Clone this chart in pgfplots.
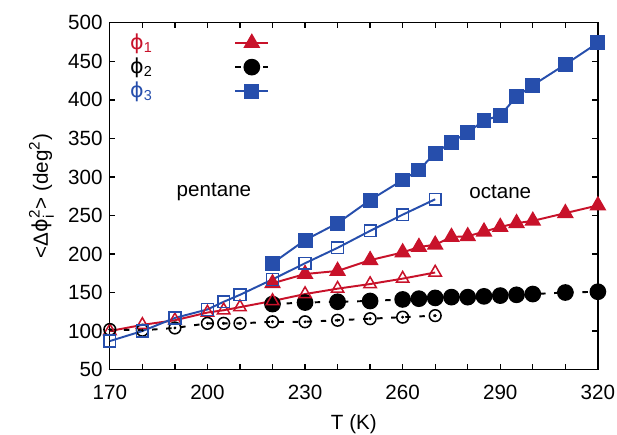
\documentclass[border=0pt]{standalone}
\usepackage{fontspec}
\setmainfont{Liberation Sans}
\newfontfamily\sym{DejaVu Sans}
\usepackage{pgfplots}
\pgfplotsset{compat=1.18}
\usepackage{pgfplotstable}

\definecolor{phired}{RGB}{200,18,42}
\definecolor{phiblue}{RGB}{38,78,172}

\newcommand{\ph}{{\sym ϕ}}

% octane: T, phi1, phi2, phi3
\pgfplotstableread{
T    p1   p2   p3
220  162  135  188
230  174  137  218
240  178  138  240
250  192  139  270
260  202  141  296
265  209  142  309
270  212  143  331
275  222  144  345
280  223  144  358
285  229  145  373
290  235  146  380
295  240  147  404
300  243  148  419
310  253  150  446
320  263  151  474
}\octane

% pentane: T, phi1, phi2, phi3
\pgfplotstableread{
T    p1   p2   p3
170  100  102   87
180  108  101  100
190  114  104  117
200  124  110  128
205  127  110  138
210  131  110  147
220  139  112  167
230  148  112  188
240  155  114  208
250  161  116  230
260  168  118  251
270  176  120  271
}\pentane

\begin{document}
\fontsize{9.5}{11}\selectfont
\begin{tikzpicture}
\begin{axis}[
  name=ax,
  scale only axis,
  width=7.91cm, height=5.62cm,
  xmin=170, xmax=320, ymin=50, ymax=500,
  xtick={170,200,...,320},
  minor x tick num=2,
  ytick={50,100,...,500},
  tick align=inside,
  major tick length=0.09cm, minor tick length=0.09cm,
  every tick/.style={line width=0.6pt, black},
  axis line style={line width=0.6pt},
  /pgf/number format/assume math mode=true,
  ticklabel style={font=\fontsize{9.5}{11}\selectfont},
  xticklabel style={yshift=-4pt},
  label style={font=\fontsize{9.5}{11}\selectfont},
  xlabel={T (K)},
  ylabel={<Δ\ph$_{\hbox{\scriptsize i}}^{\hbox{\scriptsize 2}}$> (deg$^{\hbox{\scriptsize 2}}$)},
  legend plot pos=right,
  legend cell align=left,
  legend style={draw=none, fill=none, at={(0,1)}, anchor=north west,
    xshift=0.2cm, yshift=-0.08cm, row sep=1.5pt,
    nodes={inner sep=0.5pt},
    /tikz/every odd column/.append style={column sep=1.3cm}},
  legend image code/.code={%
    \draw[mark repeat=2,mark phase=2,#1] plot coordinates {(0cm,0cm)(0.27cm,0cm)(0.54cm,0cm)};},
  clip=false,
]
% octane (filled marks)
\addplot[phired, line width=0.9pt, mark=triangle*, mark size=3.6pt]
  table[x=T,y=p1]{\octane};
\addplot[black, line width=0.9pt, dash pattern=on 2.5pt off 4pt,
  mark=*, mark size=3.4pt, mark options={solid}]
  table[x=T,y=p2]{\octane};
\addplot[phiblue, line width=0.9pt, mark=square*, mark size=3pt]
  table[x=T,y=p3]{\octane};

% pentane (open marks)
\addplot[phired, line width=0.9pt, mark=triangle, mark size=3.3pt,
  mark options={fill=white, line width=0.7pt}, forget plot]
  table[x=T,y=p1]{\pentane};
\addplot[black, line width=0.9pt, dash pattern=on 2.5pt off 4pt,
  mark=o, mark size=2.7pt, mark options={solid, fill=white, line width=0.7pt}, forget plot]
  table[x=T,y=p2]{\pentane};
\addplot[black, only marks, mark=*, mark size=0.45pt, forget plot]
  table[x=T,y=p2]{\pentane};
\addplot[phiblue, line width=0.9pt, mark=square, mark size=2.7pt,
  mark options={fill=white, line width=0.7pt}, forget plot]
  table[x=T,y=p3]{\pentane};

\node at (axis cs:202,281) {pentane};
\node at (axis cs:290,281) {octane};

\legend{\textcolor{phired}{\ph\textsubscript{1}}, \ph\textsubscript{2}, \textcolor{phiblue}{\ph\textsubscript{3}}}
\end{axis}
\pgfresetboundingbox
\path ([shift={(-1.78cm,-1.05cm)}]ax.south west) rectangle ([shift={(0.31cm,0.37cm)}]ax.north east);
\end{tikzpicture}
\end{document}
